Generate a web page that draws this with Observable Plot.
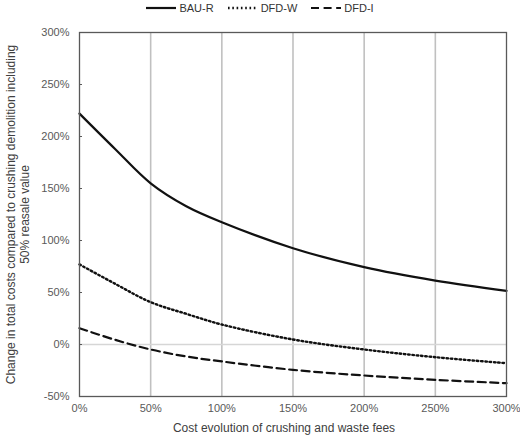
<!DOCTYPE html>
<html>
<head>
<meta charset="utf-8">
<script src="https://cdn.jsdelivr.net/npm/d3@7"></script>
<script src="https://cdn.jsdelivr.net/npm/@observablehq/plot@0.6"></script>
<style>
  body { margin: 0; background: #fff; }
  #wrap { position: relative; width: 520px; height: 437px; font-family: "Liberation Sans", Arial, sans-serif; }
  #legend { position: absolute; top: 0; left: 0; width: 520px; height: 16px; display: flex; justify-content: center; align-items: center; gap: 14px; font-size: 11px; color: #333; }
  #legend .item { display: flex; align-items: center; gap: 3px; }
  #legend svg { display: block; }
</style>
</head>
<body>
<div id="wrap">
  <div id="chart"></div>
  <div id="legend"></div>
</div>
<script>
// Cost evolution of crushing and waste fees (%)
const feeChange = [0, 25, 50, 75, 100, 150, 200, 250, 300];

// Change in total costs (%) per scenario
const bauR = [222, 188, 155, 133, 117.6, 92.6, 74.4, 61.5, 51.6];
const dfdW = [77, 58.4, 40.7, 29.5, 19.2, 4.8, -4.8, -12.2, -18];
const dfdI = [15.7, 4.5, -4.8, -11.5, -16.3, -24.4, -29.8, -34, -37.2];

const seriesNames = ["BAU-R", "DFD-W", "DFD-I"];
const xTicks = [0, 50, 100, 150, 200, 250, 300];
const yTicks = [-50, 0, 50, 100, 150, 200, 250, 300];

const xTitle = "Cost evolution of crushing and waste fees";
const yTitle = "Change in total costs compared to crushing demolition including\n50% reasale value";

const dashes = {"BAU-R": null, "DFD-W": "1.6,2.7", "DFD-I": "8,4.6"};
const widths = {"BAU-R": 2.2, "DFD-W": 2.4, "DFD-I": 2.2};
const values = {"BAU-R": bauR, "DFD-W": dfdW, "DFD-I": dfdI};

const rows = name => feeChange.map((x, i) => ({x, y: values[name][i]}));

const chart = Plot.plot({
  width: 520,
  height: 437,
  marginLeft: 79,
  marginRight: 14,
  marginTop: 32,
  marginBottom: 41,
  style: {fontFamily: "'Liberation Sans', Arial, sans-serif", fontSize: "11px", color: "#595959", background: "#fff"},
  x: {domain: [0, 300], label: null},
  y: {domain: [-50, 300], label: null},
  marks: [
    Plot.ruleX(xTicks.slice(1, -1), {stroke: "#c0c0c0", strokeWidth: 1.6}),
    Plot.ruleY([0], {stroke: "#d6d6d6", strokeWidth: 1.6}),
    Plot.axisX(xTicks, {tickSize: 0, tickPadding: 8, tickFormat: d => d + "%", fill: "#595959"}),
    Plot.axisY(yTicks, {tickSize: -3, tickPadding: 13, tickFormat: d => d + "%", fill: "#595959", stroke: "#595959"}),
    ...seriesNames.map(name =>
      Plot.line(rows(name), {
        x: "x", y: "y", curve: "catmull-rom",
        stroke: "#111", strokeWidth: widths[name], strokeDasharray: dashes[name]
      })
    ),
    Plot.frame({stroke: "#595959", strokeWidth: 1.3}),
    Plot.text([xTitle], {frameAnchor: "bottom", dy: 32, dx: -9, lineAnchor: "middle", textAnchor: "middle", fontSize: 12, fill: "#404040"}),
    Plot.text([yTitle], {frameAnchor: "left", rotate: -90, dx: -62, lineAnchor: "middle", textAnchor: "middle", lineHeight: 1.17, fontSize: 12, fill: "#404040"})
  ]
});
document.getElementById("chart").appendChild(chart);

// Legend with line-style swatches
const legend = document.getElementById("legend");
for (const name of seriesNames) {
  const item = document.createElement("div");
  item.className = "item";
  const dash = dashes[name] ? ` stroke-dasharray="${dashes[name]}"` : "";
  item.innerHTML = `<svg width="30" height="6"><line x1="0" x2="30" y1="3" y2="3" stroke="#111" stroke-width="${widths[name]}"${dash}/></svg><span>${name}</span>`;
  legend.appendChild(item);
}
</script>
</body>
</html>
